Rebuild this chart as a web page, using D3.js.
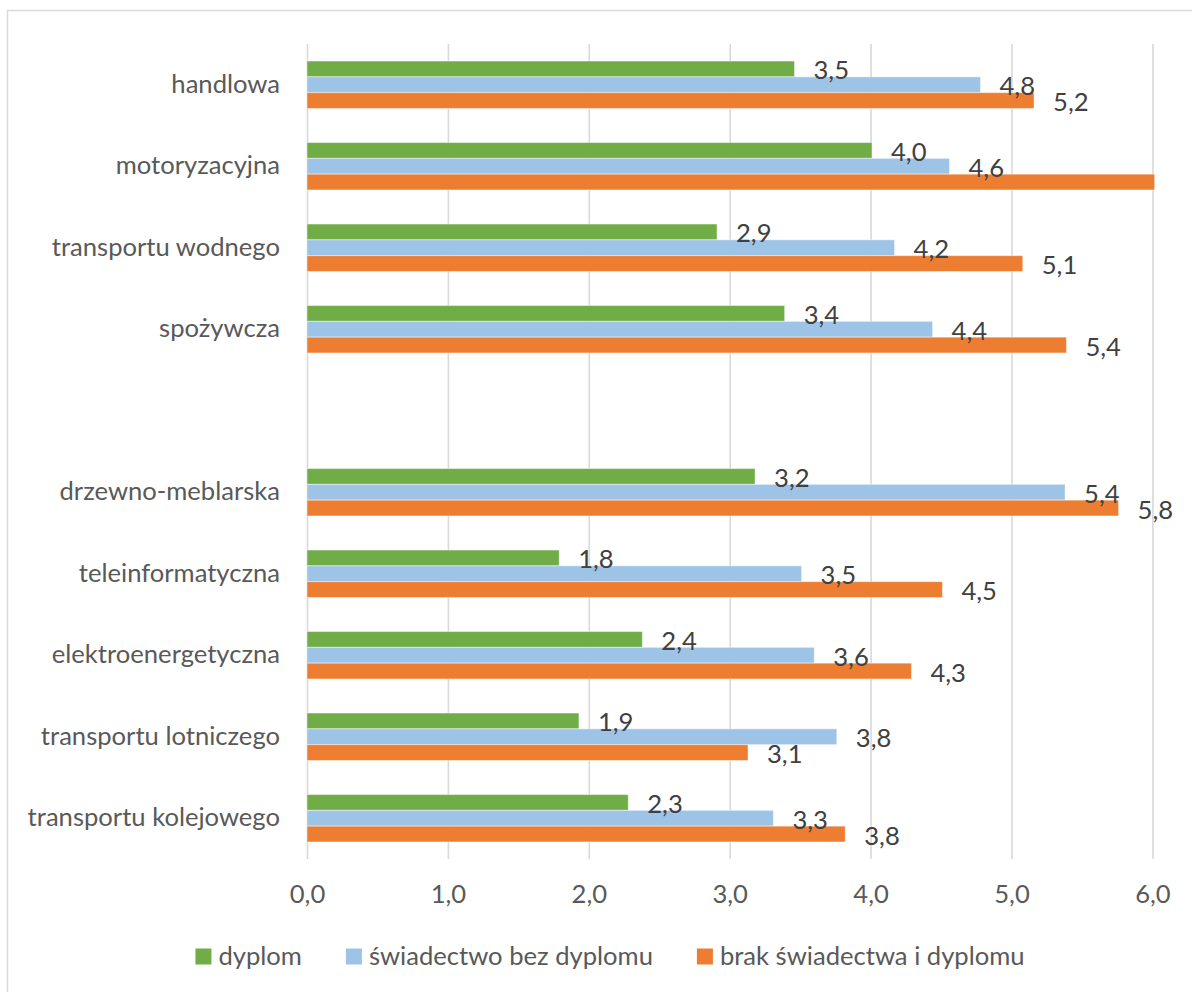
<!DOCTYPE html>
<html lang="pl">
<head>
<meta charset="utf-8">
<script src="https://cdn.jsdelivr.net/npm/d3@7"></script>
<style>
  html, body { margin: 0; padding: 0; background: #ffffff; }
  svg { display: block; }
  text { font-family: Lato, "Open Sans", sans-serif; }
</style>
</head>
<body>
<svg id="chart" width="1192" height="992"></svg>
<script>
// Categories (the blank entry leaves an empty row between the two groups)
const categories = [
  "handlowa",
  "motoryzacyjna",
  "transportu wodnego",
  "spożywcza",
  "",
  "drzewno-meblarska",
  "teleinformatyczna",
  "elektroenergetyczna",
  "transportu lotniczego",
  "transportu kolejowego"
];

// Series values
const dyplom     = [3.46, 4.01, 2.91, 3.39, null, 3.18, 1.79, 2.38, 1.93, 2.28];
const swiadectwo = [4.78, 4.56, 4.17, 4.44, null, 5.38, 3.51, 3.60, 3.76, 3.31];
const brak       = [5.16, 6.30, 5.08, 5.39, null, 5.76, 4.51, 4.29, 3.13, 3.82];

const seriesNames = ["dyplom", "świadectwo bez dyplomu", "brak świadectwa i dyplomu"];
const seriesColors = ["#70AD47", "#9DC3E6", "#ED7D31"];

// Value axis
const xMax = 6;
const xTicks = [0, 1, 2, 3, 4, 5, 6];

const series = [dyplom, swiadectwo, brak].map((values, s) => ({
  name: seriesNames[s],
  color: seriesColors[s],
  values
}));

const locale = d3.formatLocale({ decimal: ",", thousands: " ", grouping: [3], currency: ["", " zł"] });
const fmt = locale.format(".1f");

const svg = d3.select("#chart");
const fontSize = 25.6;

// Chart frame
svg.append("rect")
  .attr("x", 7.5).attr("y", 10.5)
  .attr("width", 1400).attr("height", 1200)
  .attr("fill", "#ffffff")
  .attr("stroke", "#d9d9d9")
  .attr("stroke-width", 1.5);

const plot = { left: 307, right: 1152.4, top: 44, bottom: 859 };

const x = d3.scaleLinear().domain([0, xMax]).range([plot.left, plot.right]);
const y = d3.scaleBand()
  .domain(d3.range(categories.length))
  .range([plot.top, plot.bottom])
  .paddingInner(0.418)
  .paddingOuter(0.209);
const ySub = d3.scaleBand().domain(d3.range(series.length)).range([0, y.bandwidth()]);

// Gridlines + value tick labels
const xAxis = svg.append("g")
  .attr("transform", `translate(0,${plot.bottom})`)
  .call(d3.axisBottom(x)
    .tickValues(xTicks)
    .tickFormat(fmt)
    .tickSize(-(plot.bottom - plot.top))
    .tickPadding(26));
xAxis.select(".domain").remove();
xAxis.selectAll(".tick line")
  .attr("stroke", "#d9d9d9")
  .attr("stroke-width", 1.6);
xAxis.selectAll(".tick text")
  .attr("fill", "#595959")
  .style("font-size", fontSize + "px")
  .style("font-family", "Lato, sans-serif");

// Category labels
const yAxis = svg.append("g")
  .attr("transform", `translate(${plot.left},0)`)
  .call(d3.axisLeft(y)
    .tickFormat(i => categories[i])
    .tickSize(0)
    .tickPadding(27));
yAxis.select(".domain").remove();
yAxis.selectAll(".tick text")
  .attr("fill", "#595959")
  .style("font-size", fontSize + "px")
  .style("font-family", "Lato, sans-serif");

// Bars, clipped at the axis maximum
const clip = svg.append("clipPath").attr("id", "plot-clip")
  .append("rect")
  .attr("x", plot.left).attr("y", plot.top)
  .attr("width", plot.right - plot.left + 2)
  .attr("height", plot.bottom - plot.top);

const barsG = svg.append("g").attr("clip-path", "url(#plot-clip)");
const labelsG = svg.append("g");

series.forEach((s, si) => {
  const data = s.values
    .map((v, i) => ({ v, i }))
    .filter(d => d.v !== null);

  barsG.selectAll(null)
    .data(data)
    .enter()
    .append("rect")
    .attr("x", x(0))
    .attr("y", d => y(d.i) + ySub(si))
    .attr("width", d => x(Math.min(d.v, xMax)) - x(0) + (d.v > xMax ? 3 : 0))
    .attr("height", ySub.bandwidth())
    .attr("fill", s.color)
    .attr("stroke", "#ffffff")
    .attr("stroke-opacity", 0.45)
    .attr("stroke-width", 1);

  labelsG.selectAll(null)
    .data(data.filter(d => d.v <= xMax))
    .enter()
    .append("text")
    .attr("x", d => x(d.v) + 19)
    .attr("y", d => y(d.i) + ySub(si) + ySub.bandwidth() / 2 + 10.5)
    .attr("fill", "#404040")
    .style("font-size", fontSize + "px")
    .text(d => fmt(d.v));
});

// Legend, centred under the chart
const legend = svg.append("g");
const sw = 16, gapText = 7, gapItem = 44, legendBaseline = 964.5, legendCenter = 610;
const items = series.map(s => {
  const g = legend.append("g");
  g.append("rect")
    .attr("width", sw).attr("height", sw)
    .attr("y", legendBaseline - sw)
    .attr("fill", s.color);
  const t = g.append("text")
    .attr("x", sw + gapText)
    .attr("y", legendBaseline)
    .attr("fill", "#595959")
    .style("font-size", fontSize + "px")
    .text(s.name);
  return { g, w: sw + gapText + t.node().getComputedTextLength() };
});
const totalW = d3.sum(items, d => d.w) + gapItem * (items.length - 1);
let cx = legendCenter - totalW / 2;
items.forEach(it => {
  it.g.attr("transform", `translate(${cx},0)`);
  cx += it.w + gapItem;
});
</script>
</body>
</html>
